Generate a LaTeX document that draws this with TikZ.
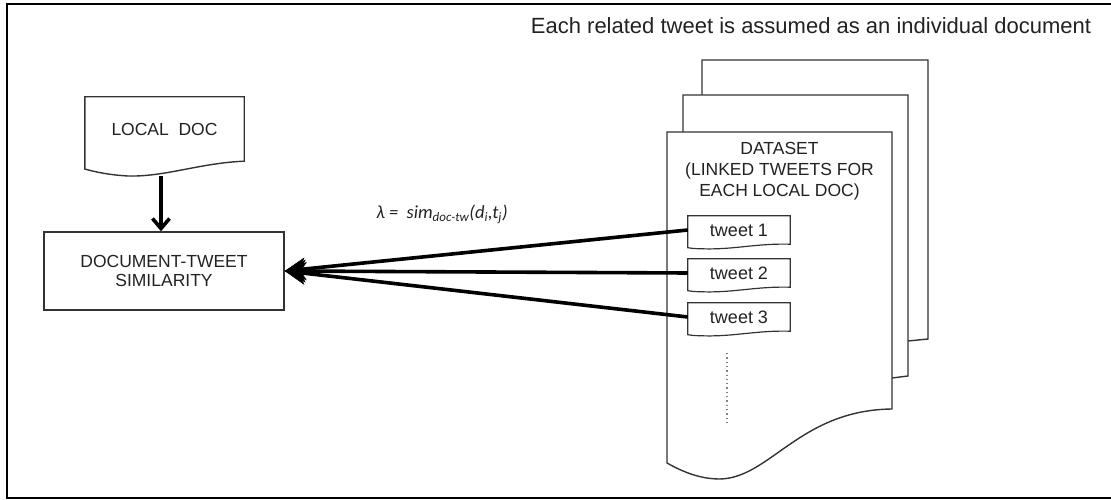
\documentclass[tikz,border=0pt]{standalone}
\usepackage{fontspec}
\setmainfont{Liberation Sans}
\newfontfamily\carlfont{Carlito}
\usetikzlibrary{arrows.meta,calc}
\definecolor{ink}{HTML}{333333}
\definecolor{txtc}{HTML}{222222}
\begin{document}
\begin{tikzpicture}[x=1pt,y=-1pt,
  outline/.style={draw=ink, line width=1.4pt, line join=miter},
  boxtext/.style={text=txtc, font=\fontsize{17.5}{19}\selectfont, align=center, inner sep=0pt},
  tweetnode/.style={text=txtc, font=\fontsize{18}{20}\selectfont, minimum width=102pt, minimum height=28pt, inner sep=0pt},
  simarrow/.style={draw=black, line width=3.6pt, -{Stealth[length=21pt,width=23pt,inset=6pt,line width=0.5pt]}},
  downarrow/.style={draw=black, line width=3.6pt, -{Straight Barb[length=10pt,width=17pt]}}
]
\useasboundingbox (0,0) rectangle (1111,500);
% outer frame
\draw[black, line width=2pt] (1112,4) -- (7,4) -- (7,498) -- (1112,498);

% title
\node[text=txtc, font=\fontsize{22}{26}\selectfont, anchor=base, inner sep=0pt] (title) at (811,33.5) {Each related tweet is assumed as an individual document};

% LOCAL DOC
\node[boxtext, minimum width=159pt, minimum height=64pt] (local) at (164.5,129) {LOCAL\ \ DOC};
\draw[outline] (local.south west) -- (local.north west) -- (local.north east) -- (local.south east)
  .. controls (200,163) and (165,177) .. (128,176)
  .. controls (110,175) and (95,172) .. (local.south west |- 0,169) -- cycle;

% DOCUMENT-TWEET SIMILARITY
\node[boxtext, draw=ink, line width=1.4pt, minimum width=240pt, minimum height=78pt] (sim) at (164,271) {DOCUMENT-TWEET\\SIMILARITY};

\draw[downarrow] (161,176) -- (sim.north -| 161,0);

% stacked pages
\draw[outline] (702,95) -- (702,60) -- (928,60) -- (928,339) -- (908,341);
\fill[white] (683,95) -- (908,95) -- (908,376) -- (892,378) -- (683,380) -- cycle;
\draw[outline] (683,132) -- (683,95) -- (908,95) -- (908,376) -- (892,378);
\draw[outline, fill=white] (667,132) -- (892,132) -- (892,409)
  .. controls (800,410) and (770,478) .. (720,479)
  .. controls (700,479) and (683,472) .. (667,463) -- cycle;

\node[boxtext, font=\fontsize{17.5}{21}\selectfont] (dataset) at (779.5,171) {DATASET\\(LINKED TWEETS FOR\\EACH LOCAL DOC)};

% tweets
\foreach \i/\y in {1/230,2/273,3/317}{
  \node[tweetnode] (t\i) at (739,\y) {tweet \i};
  \draw[outline, line width=1.2pt] (t\i.south west) -- (t\i.north west) -- (t\i.north east) -- (t\i.south east)
    .. controls ($(t\i.south east)+(-35,-1)$) and ($(t\i.south west)+(45,6)$) .. ($(t\i.south west)+(12,4.5)$)
    .. controls ($(t\i.south west)+(6,4.5)$) and ($(t\i.south west)+(3,4)$) .. ($(t\i.south west)+(0,3.5)$) -- cycle;
}
\draw[gray, line width=1.3pt, dash pattern=on 1.3pt off 3pt] (727,353) -- (727,426);

% connectors
\foreach \i in {1,2,3}{
  \draw[simarrow] (t\i.west) -- (sim.east);
}

% label
\node[text=txtc, font=\carlfont\itshape\fontsize{18.5}{22}\selectfont, inner sep=0pt] (lambda) at (442,214)
  {λ =\ \ sim\textsubscript{doc-tw}(d\textsubscript{i},t\textsubscript{j})};
\end{tikzpicture}
\end{document}
